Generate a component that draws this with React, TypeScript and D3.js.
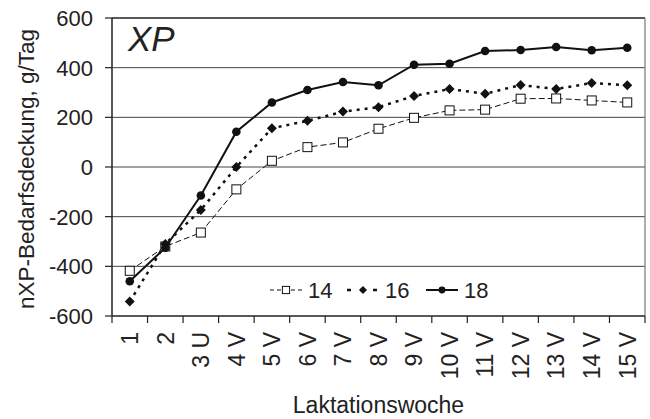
import * as React from 'react'
import * as d3 from 'd3'

// Laktationswoche categories
const weeks = ['1', '2', '3 U', '4 V', '5 V', '6 V', '7 V', '8 V', '9 V', '10 V', '11 V', '12 V', '13 V', '14 V', '15 V']
// nXP-Bedarfsdeckung, g/Tag per series
const s14 = [-418, -320, -264, -90, 25, 80, 99, 154, 198, 228, 231, 275, 276, 268, 260]
const s16 = [-542, -310, -173, 0, 156, 186, 223, 241, 286, 314, 295, 330, 314, 338, 329]
const s18 = [-460, -325, -115, 142, 260, 310, 342, 329, 412, 416, 467, 471, 483, 470, 480]
const seriesNames = ['14', '16', '18']
const yTicks = [-600, -400, -200, 0, 200, 400, 600]

const W = 650
const H = 419
const font = 'Liberation Sans, Arial, sans-serif'

type Marker = 'square' | 'diamond' | 'circle'

const styles: { dash: string; legendDash: string; width: number; marker: Marker }[] = [
  { dash: '6,3', legendDash: '4,3', width: 1, marker: 'square' },
  { dash: '3,5', legendDash: '4,9', width: 2.5, marker: 'diamond' },
  { dash: 'none', legendDash: 'none', width: 2, marker: 'circle' },
]

function drawMarker(m: Marker, x: number, y: number, key: string | number, small = false) {
  const k = small ? 0.8 : 1
  if (m === 'square') {
    const s = 4.5 * k
    return <rect key={key} x={x - s} y={y - s} width={2 * s} height={2 * s} fill="#fff" stroke="#111" strokeWidth={1} />
  }
  if (m === 'diamond') {
    const s = 5 * k
    return <path key={key} d={`M${x},${y - s}L${x + s},${y}L${x},${y + s}L${x - s},${y}Z`} fill="#111" />
  }
  return <circle key={key} cx={x} cy={y} r={4.3 * k} fill="#111" />
}

export default function App() {
  const margin = { left: 112, right: 5, top: 18, bottom: 103 }
  const x = d3.scaleBand<string>().domain(weeks).range([margin.left, W - margin.right])
  const y = d3.scaleLinear().domain([-600, 600]).range([H - margin.bottom, margin.top])
  const cx = (w: string) => (x(w) || 0) + x.bandwidth() / 2
  const data = [s14, s16, s18]
  const line = d3.line<number>().x((_, i) => cx(weeks[i])).y(d => y(d))

  const legendX = [270, 347, 426]
  const bottom = y(-600)

  return (
    <div style={{ position: 'absolute', left: 0, top: 0 }}>
      <svg width={W} height={H} style={{ display: 'block', background: '#fff' }} fontFamily={font}>
        {yTicks.map(t => (
          <g key={t}>
            {t !== -600 && (
              <line x1={margin.left} x2={W - margin.right} y1={y(t)} y2={y(t)}
                stroke={t === 600 ? '#222' : '#444'} strokeWidth={t === 600 ? 1.5 : 1} />
            )}
            <line x1={margin.left - 7} x2={margin.left} y1={y(t)} y2={y(t)} stroke="#222" strokeWidth={1.2} />
            <text x={93} y={y(t)} dy="0.36em" textAnchor="end" fontSize={22} fill="#222">{t}</text>
          </g>
        ))}
        <line x1={W - margin.right} x2={W - margin.right} y1={margin.top} y2={bottom} stroke="#777" strokeWidth={1.2} />
        <line x1={margin.left} x2={margin.left} y1={margin.top} y2={bottom} stroke="#222" strokeWidth={1.5} />
        <line x1={margin.left} x2={W - margin.right} y1={bottom} y2={bottom} stroke="#222" strokeWidth={1.5} />
        {weeks.map(w => (
          <line key={w} x1={x(w) || 0} x2={x(w) || 0} y1={bottom} y2={bottom + 7} stroke="#222" strokeWidth={1.2} />
        ))}
        <line x1={W - margin.right} x2={W - margin.right} y1={bottom} y2={bottom + 7} stroke="#222" strokeWidth={1.2} />
        {weeks.map(w => (
          <text key={w} transform={`translate(${cx(w)},${bottom + 16}) rotate(-90)`} textAnchor="end" dy="0.36em"
            fontSize={23} fill="#222">{w}</text>
        ))}

        <text x={128} y={51} fontSize={35} fontStyle="italic" fill="#222">XP</text>

        {data.map((s, i) => (
          <g key={i}>
            <path d={line(s) || ''} fill="none" stroke="#111" strokeWidth={styles[i].width}
              strokeDasharray={styles[i].dash} />
            {s.map((v, j) => drawMarker(styles[i].marker, cx(weeks[j]), y(v), j))}
          </g>
        ))}

        {seriesNames.map((n, i) => {
          const lx = legendX[i]
          const ly = 290
          return (
            <g key={n}>
              <line x1={lx} x2={lx + 32} y1={ly} y2={ly} stroke="#111" strokeWidth={styles[i].width}
                strokeDasharray={styles[i].legendDash} />
              {drawMarker(styles[i].marker, lx + 16, ly, 'm', true)}
              <text x={lx + 38} y={ly} dy="0.36em" fontSize={22} fill="#222">{n}</text>
            </g>
          )
        })}

        <text transform={`translate(34,${(margin.top + bottom) / 2 + 2}) rotate(-90)`} textAnchor="middle"
          fontSize={22.5} fill="#222">nXP-Bedarfsdeckung, g/Tag</text>
        <text x={(margin.left + W - margin.right) / 2} y={413} textAnchor="middle" fontSize={23} fill="#222">Laktationswoche</text>
      </svg>
    </div>
  )
}
